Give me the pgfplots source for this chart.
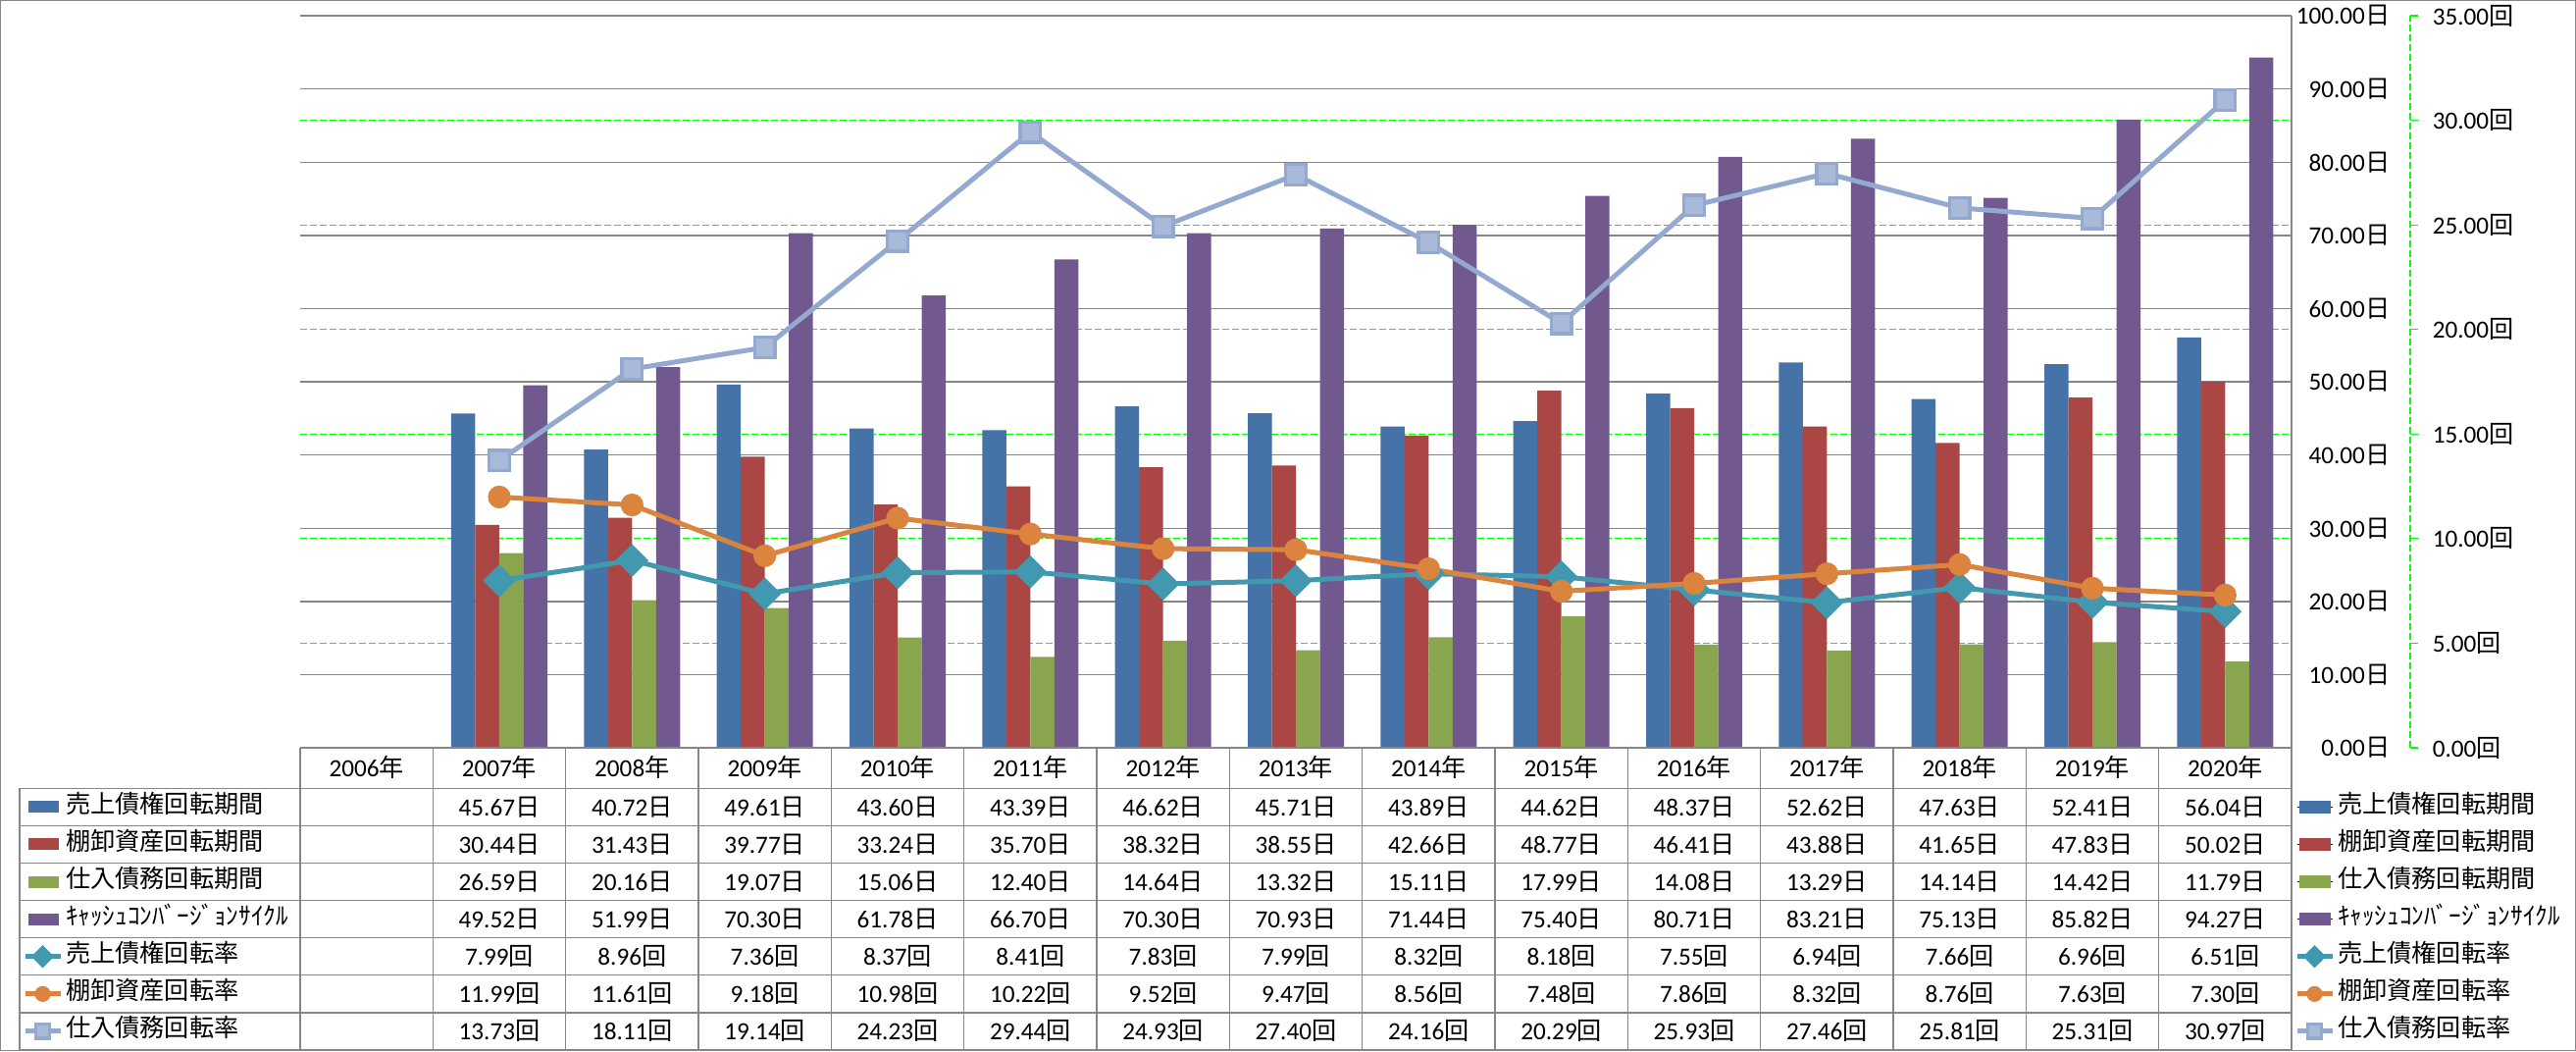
\documentclass[border=0pt]{standalone}
\usepackage{fontspec}
\setmainfont{Carlito}
\newfontfamily\jp{Noto Sans CJK JP}
\usepackage{pgfplots}
\usepackage{pgfplotstable}
\pgfplotsset{compat=1.18}

\definecolor{cBlue}{HTML}{4572A7}
\definecolor{cRed}{HTML}{AA4643}
\definecolor{cGreen}{HTML}{89A54E}
\definecolor{cPurple}{HTML}{71588F}
\definecolor{cTeal}{HTML}{4198AF}
\definecolor{cOrange}{HTML}{DB843D}
\definecolor{cLight}{HTML}{93A9CF}
\definecolor{gridgrey}{HTML}{868686}
\definecolor{lime}{HTML}{00FF00}

\newcommand\cf{\fontsize{6.3pt}{7.6pt}\selectfont}

% 2007..2020 (2006 has no data)
\pgfplotstableread{
idx ar    inv   ap    ccc   arr  invr  apr
1   45.67 30.44 26.59 49.52 7.99 11.99 13.73
2   40.72 31.43 20.16 51.99 8.96 11.61 18.11
3   49.61 39.77 19.07 70.30 7.36 9.18  19.14
4   43.60 33.24 15.06 61.78 8.37 10.98 24.23
5   43.39 35.70 12.40 66.70 8.41 10.22 29.44
6   46.62 38.32 14.64 70.30 7.83 9.52  24.93
7   45.71 38.55 13.32 70.93 7.99 9.47  27.40
8   43.89 42.66 15.11 71.44 8.32 8.56  24.16
9   44.62 48.77 17.99 75.40 8.18 7.48  20.29
10  48.37 46.41 14.08 80.71 7.55 7.86  25.93
11  52.62 43.88 13.29 83.21 6.94 8.32  27.46
12  47.63 41.65 14.14 75.13 7.66 8.76  25.81
13  52.41 47.83 14.42 85.82 6.96 7.63  25.31
14  56.04 50.02 11.79 94.27 6.51 7.30  30.97
}\data

\pgfplotsset{
  barkey/.style={legend image code/.code={
      \path (0pt,0pt) -- (9pt,0pt);
      \fill[#1] (0.75pt,-1.5pt) rectangle (8.5pt,1.5pt);}},
  linekey/.style={legend image code/.code={
      \draw[mark repeat=2,mark phase=2,##1,every mark/.append style={scale=0.68}]
        plot coordinates {(0pt,0pt) (4.5pt,0pt) (9pt,0pt)};}},
  rateA/.style={color=cTeal, line width=1.25pt, mark=square*, mark size=2.8pt,
      mark options={solid, rotate=45, fill=cTeal, draw=cTeal, line width=0.3pt}, linekey},
  rateB/.style={color=cOrange, line width=1.25pt, mark=*, mark size=2.75pt,
      mark options={solid, fill=cOrange, draw=cOrange, line width=0.3pt}, linekey},
  rateC/.style={color=cLight, line width=1.25pt, mark=square*, mark size=2.6pt,
      mark options={solid, fill=cLight!80!white, draw=cLight, line width=0.8pt}, linekey},
  tbllegend/.style={legend cell align=left,
      legend style={anchor=north west, draw=none, fill=none, inner sep=0pt, outer sep=0pt,
        row sep=0pt, font=\cf\jp,
        nodes={inner sep=0pt, text height=6.2pt, text depth=3.325pt},
        /tikz/every odd column/.append style={column sep=0.75pt}}},
}

\begin{document}
\begin{tikzpicture}[font=\cf]
% picture frame in reference pixels (1 px = 0.25 pt), plot box lower left at (306,762)
\begin{scope}[x=0.25pt, y=-0.25pt, shift={(-76.5pt,190.5pt)}]
  \path[use as bounding box] (0,0) rectangle (2626,1071);
\end{scope}

\begin{axis}[
  at={(0,0)}, anchor=south west,
  scale only axis, width=507.5pt, height=186.5pt,
  xmin=-0.5, xmax=14.5, ymin=0, ymax=100,
  axis x line=none, axis y line*=right,
  y axis line style={draw=gridgrey, line width=0.35pt},
  ytick={0,10,...,100}, major tick length=0pt,
  ymajorgrids, major grid style={draw=gridgrey, line width=0.35pt},
  extra y ticks={14.2857,28.5714,42.8571,57.1429,71.4286,85.7143},
  extra y tick labels={},
  extra y tick style={grid=major, major tick length=0pt,
    major grid style={draw=lime, dash pattern=on 1.75pt off 0.75pt, line width=0.3pt}},
  /pgf/number format/assume math mode=true,
  yticklabel={\pgfmathprintnumber[fixed,fixed zerofill,precision=2]{\tick}{\jp 日}},
  yticklabel style={anchor=east, xshift=25.25pt, inner sep=0pt, font=\cf},
  clip=false,
  tbllegend,
  legend style={at={(axis description cs:-0.13941,-0.05536)}},
]
\addplot[ybar, bar width=6.125pt, bar shift=-9.1875pt, fill=cBlue, draw=none, barkey=cBlue]
  table[x=idx, y=ar] {\data};
\addlegendentry{売上債権回転期間}
\addplot[ybar, bar width=6.125pt, bar shift=-3.0625pt, fill=cRed, draw=none, barkey=cRed]
  table[x=idx, y=inv] {\data};
\addlegendentry{棚卸資産回転期間}
\addplot[ybar, bar width=6.125pt, bar shift=3.0625pt, fill=cGreen, draw=none, barkey=cGreen]
  table[x=idx, y=ap] {\data};
\addlegendentry{仕入債務回転期間}
\addplot[ybar, bar width=6.125pt, bar shift=9.1875pt, fill=cPurple, draw=none, barkey=cPurple]
  table[x=idx, y=ccc] {\data};
\addlegendentry{ｷｬｯｼｭｺﾝﾊﾞｰｼﾞｮﾝｻｲｸﾙ}
\addlegendimage{rateA}
\addlegendentry{売上債権回転率}
\addlegendimage{rateB}
\addlegendentry{棚卸資産回転率}
\addlegendimage{rateC}
\addlegendentry{仕入債務回転率}
\end{axis}

\begin{axis}[
  at={(0,0)}, anchor=south west,
  scale only axis, width=537.75pt, height=186.5pt,
  xmin=-0.5, xmax=15.394, ymin=0, ymax=35,
  axis x line=none, axis y line*=right,
  y axis line style={draw=lime, dash pattern=on 1.75pt off 0.75pt, line width=0.3pt},
  ytick={0,5,...,35}, tick align=outside, major tick length=2pt,
  ytick style={draw=lime, line width=0.3pt},
  /pgf/number format/assume math mode=true,
  yticklabel={\pgfmathprintnumber[fixed,fixed zerofill,precision=2]{\tick}{\jp 回}},
  yticklabel style={anchor=west, xshift=3.5pt, inner sep=0pt, font=\cf},
  clip=false,
  tbllegend,
  legend style={at={(axis description cs:0.94514,-0.05536)}},
]
\addlegendimage{barkey=cBlue}
\addlegendentry{売上債権回転期間}
\addlegendimage{barkey=cRed}
\addlegendentry{棚卸資産回転期間}
\addlegendimage{barkey=cGreen}
\addlegendentry{仕入債務回転期間}
\addlegendimage{barkey=cPurple}
\addlegendentry{ｷｬｯｼｭｺﾝﾊﾞｰｼﾞｮﾝｻｲｸﾙ}
\addplot[rateA] table[x=idx, y=arr] {\data};
\addlegendentry{売上債権回転率}
\addplot[rateB] table[x=idx, y=invr] {\data};
\addlegendentry{棚卸資産回転率}
\addplot[rateC] table[x=idx, y=apr] {\data};
\addlegendentry{仕入債務回転率}
\end{axis}

% data table below the plot
\begin{scope}[x=0.25pt, y=-0.25pt, shift={(-76.5pt,190.5pt)}]
  \draw[gridgrey, line width=0.25pt] (0.5,0.5) rectangle (2625.5,1070.5);
  \foreach \k in {0,...,15}
    \draw[gridgrey, line width=0.35pt] ({306+135.333*\k},762) -- ({306+135.333*\k},1070.5);
  \draw[gridgrey, line width=0.35pt] (20,803.3) -- (20,1070.5);
  \draw[gridgrey, line width=0.35pt] (306,762) -- (2336,762);
  \foreach \r in {0,...,7}
    \draw[gridgrey, line width=0.35pt] (20,{803.3+38.1*\r}) -- (2336,{803.3+38.1*\r});
  \foreach \k in {0,...,14} {
    \pgfmathtruncatemacro\yr{2006+\k}
    \node[anchor=base, inner sep=0pt] at ({306+135.333*(\k+0.5)},792) {\yr{\jp 年}};
  }
  \foreach \col/\unit [count=\r from 0] in {ar/日,inv/日,ap/日,ccc/日,arr/回,invr/回,apr/回} {
    \foreach \i in {0,...,13} {
      \pgfplotstablegetelem{\i}{\col}\of\data
      \node[anchor=base, inner sep=0pt] at ({306+135.333*(\i+1.5)},{803.3+38.1*\r+28})
        {\pgfplotsretval{\jp\unit}};
    }
  }
\end{scope}
\end{tikzpicture}
\end{document}
